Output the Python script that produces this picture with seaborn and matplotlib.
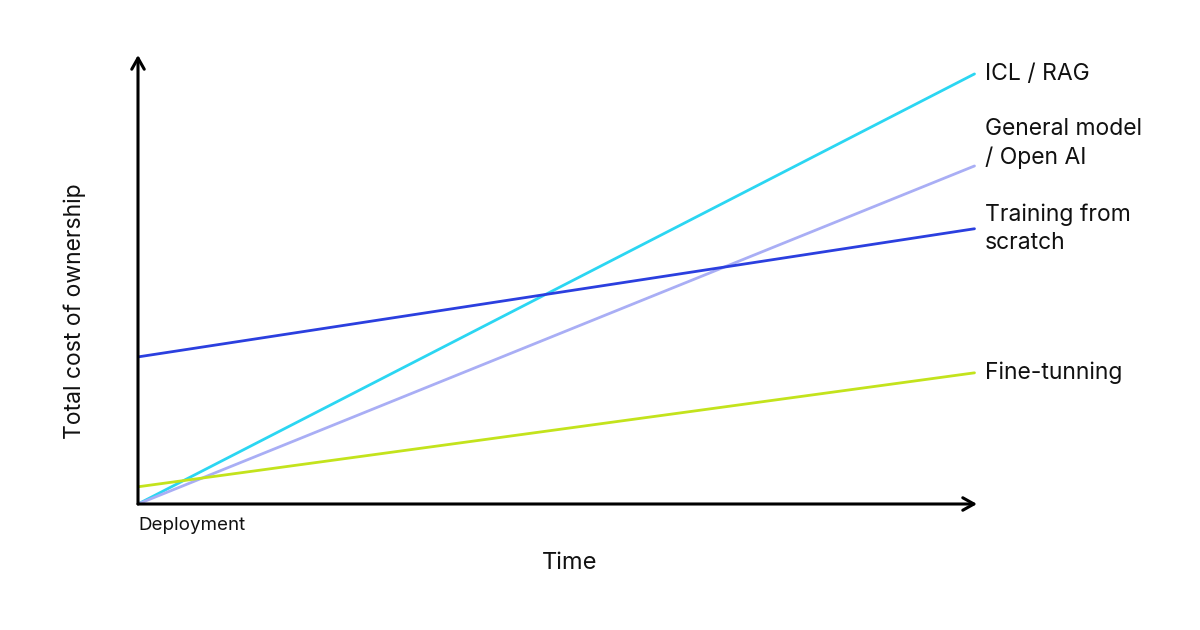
import pandas as pd
import seaborn as sns
import matplotlib.pyplot as plt

# values (time 0..10, cost in arbitrary units)
time = [0, 10]
icl_rag = [0.0, 10.0]
general_model = [0.0, 7.86]
training_scratch = [3.42, 6.4]
fine_tuning = [0.4, 3.05]

series_names = ["ICL / RAG", "General model\n/ Open AI", "Training from\nscratch", "Fine-tunning"]
series_values = [icl_rag, general_model, training_scratch, fine_tuning]
colors = ["#2bd6f2", "#a9aef5", "#2b3fdf", "#c3e31c"]
label_dy = [0, 16, 0, 0]  # vertical nudge of the end labels, in points

rows = []
for name, vals in zip(series_names, series_values):
    for t, v in zip(time, vals):
        rows.append({"time": t, "cost": v, "approach": name})
df = pd.DataFrame(rows)

sns.set_style("white")
plt.rcParams['font.family'] = ['Inter', 'DejaVu Sans']

fig = plt.figure(figsize=(12, 6.3), dpi=100)
ax = fig.add_axes([138 / 1200, (630 - 504) / 630, (977 - 138) / 1200, (504 - 55) / 630])

sns.lineplot(data=df, x="time", y="cost", hue="approach", palette=colors,
             linewidth=2.0, legend=False, ax=ax)

ax.set_xlim(0, 10.03)
ax.set_ylim(0, 10.44)
for s in ax.spines.values():
    s.set_visible(False)
ax.set_xticks([])
ax.set_yticks([])
ax.set_xlabel("")
ax.set_ylabel("")

# axis arrows
arrow = dict(arrowstyle="->, head_width=0.45, head_length=0.8", color="black", lw=2.2,
             shrinkA=0, shrinkB=0)
ax.annotate("", xy=(1.0, 0), xytext=(0, 0), xycoords="axes fraction", arrowprops=arrow, clip_on=False)
ax.annotate("", xy=(0, 1.0), xytext=(0, 0), xycoords="axes fraction", arrowprops=arrow, clip_on=False)

# end labels
for name, vals, dy in zip(series_names, series_values, label_dy):
    ax.annotate(name, xy=(time[-1], vals[-1]), xytext=(7.5, dy), textcoords="offset points",
                ha="left", va="center", fontsize=16.5, color="#111111", linespacing=1.4,
                annotation_clip=False)

fig.text(138 / 1200, 1 - 525 / 630, "Deployment", ha="left", va="center", fontsize=13.5, color="#111111")
fig.text(570 / 1200, 1 - 563 / 630, "Time", ha="center", va="center", fontsize=17, color="#111111")
fig.text(75 / 1200, 1 - 311 / 630, "Total cost of ownership", ha="center", va="center",
         rotation=90, fontsize=16.5, color="#111111")

fig.savefig("out.png", dpi=100, facecolor="white")
